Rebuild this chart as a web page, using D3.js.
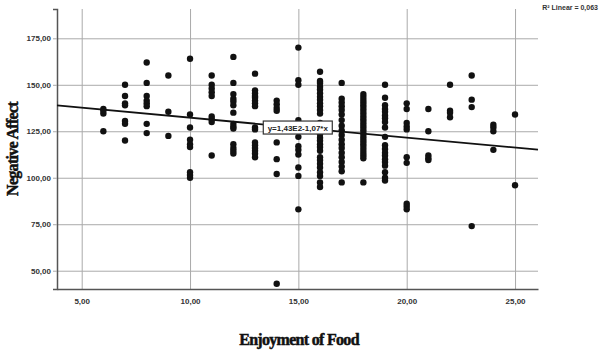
<!DOCTYPE html>
<html>
<head>
<meta charset="utf-8">
<script src="https://cdn.jsdelivr.net/npm/d3@7"></script>
<style>
  body { margin: 0; background: #fff; }
  svg { display: block; }
  .tick text { font-family: 'Liberation Sans', Arial, sans-serif; font-size: 8px; font-weight: bold; fill: #333; }
  .axis-title { font-family: 'Liberation Serif', 'DejaVu Serif', serif; font-weight: bold; font-size: 16px; fill: #111; stroke: #111; stroke-width: 0.5px; letter-spacing: -0.7px; }
</style>
</head>
<body>
<svg id="chart"></svg>
<script>
// Enjoyment of Food score (x) and the Negative Affect values seen in that column
const enjoyment = [6, 7, 8, 9, 10, 11, 12, 13, 14, 15, 16, 17, 18, 19, 20, 21, 22, 23, 24, 25];
const negativeAffect = [
  [137, 136, 134.5, 125],
  [150, 144, 140, 139, 130.5, 129, 120],
  [162, 151, 144, 141.5, 140, 138.5, 129, 124],
  [155, 135.5, 122.5],
  [164, 134, 127, 120.5, 118, 116.5, 103, 101.5, 100],
  [155, 150, 148, 146, 144, 133, 131.5, 130, 112],
  [165, 151, 145, 142.5, 141, 139, 135, 129, 127.5, 126.5, 118, 116, 114.5, 113],
  [156, 147, 145.5, 144, 143, 141.5, 140, 138.5, 127, 126, 119, 117.5, 116, 114.5, 113, 111],
  [141.5, 139.5, 137.5, 136, 119, 110, 102, 43],
  [170, 152.5, 150, 131, 129.5, 127, 122, 117, 115, 112.5, 105.5, 101, 83],
  [157, 152, 151, 149, 147.5, 145.5, 143.5, 142, 140, 138.5, 136.5, 134.5, 129.5, 127.5, 126, 123.5,
   121.5, 120, 118, 116.5, 114.5, 111, 109.5, 107.5, 105.5, 103, 101, 97.5, 95],
  [151, 142.5, 140.5, 138.5, 136.5, 134, 131, 128, 125.5, 123, 120.5, 118, 116, 113.5, 111, 108.5, 106, 103.5, 97.5],
  [145, 143.5, 142, 140.5, 139, 137.5, 136, 134.5, 133, 131.5, 130, 128.5, 127, 125.5, 124, 122.5,
   121, 119.5, 118, 116.5, 115, 113.5, 112, 110.5, 97.5],
  [150, 143, 139, 137, 135.5, 133.5, 132, 130, 127, 122, 117.5, 115.5, 113.5, 112, 110, 108.5, 106.5, 103, 100, 98.5],
  [140, 137, 129.5, 127.5, 126, 111, 108, 86, 84.5, 83],
  [137, 125, 112, 110.5, 109.5],
  [150, 136, 135, 132.5],
  [155, 142, 138, 74],
  [128.5, 127, 125, 115],
  [134, 96]
];
const xTicks = [5, 10, 15, 20, 25];
const yTicks = [50, 75, 100, 125, 150, 175];
const fitIntercept = 143;
const fitSlope = -1.07;
const fitLabel = 'y=1,43E2-1,07*x';
const r2Label = 'R² Linear = 0,063';

const width = 600, height = 351;
const margin = { top: 9, right: 62, bottom: 62, left: 57 };
const innerW = width - margin.left - margin.right;
const innerH = height - margin.top - margin.bottom;

const points = [];
enjoyment.forEach((e, i) => negativeAffect[i].forEach(v => points.push({ x: e, y: v })));

const svg = d3.select('#chart').attr('width', width).attr('height', height);
const g = svg.append('g').attr('transform', `translate(${margin.left},${margin.top})`);

const x = d3.scaleLinear().domain([3.86, 26.06]).range([0, innerW]);
const y = d3.scaleLinear().domain([40.16, 190.76]).range([innerH, 0]);
const fmt = d => d3.format('.2f')(d).replace('.', ',');

// gridlines
g.append('g')
  .call(d3.axisBottom(x).tickValues(xTicks).tickSize(-innerH).tickFormat(''))
  .attr('transform', `translate(0,${innerH})`)
  .call(s => s.select('.domain').remove())
  .selectAll('line').attr('stroke', '#aaa');
g.append('g')
  .call(d3.axisLeft(y).tickValues(yTicks).tickSize(-innerW).tickFormat(''))
  .call(s => s.select('.domain').remove())
  .selectAll('line').attr('stroke', '#aaa');

// axes
const xAxis = g.append('g')
  .attr('transform', `translate(0,${innerH})`)
  .call(d3.axisBottom(x).tickValues(xTicks).tickSize(0).tickPadding(9).tickFormat(fmt));
xAxis.select('.domain').attr('stroke', '#555').attr('stroke-width', 1.5);

const yAxis = g.append('g')
  .call(d3.axisLeft(y).tickValues(yTicks).tickSize(4).tickPadding(2).tickFormat(fmt));
yAxis.select('.domain').attr('stroke', '#555').attr('stroke-width', 1.5);
yAxis.selectAll('.tick line').attr('stroke', '#aaa');

// points
g.selectAll('circle.pt')
  .data(points)
  .enter().append('circle')
    .attr('class', 'pt')
    .attr('cx', d => x(d.x))
    .attr('cy', d => y(d.y))
    .attr('r', 3.2)
    .attr('fill', '#111');

// fit line
const xd = x.domain();
g.append('line')
  .attr('x1', x(xd[0])).attr('y1', y(fitIntercept + fitSlope * xd[0]))
  .attr('x2', x(xd[1])).attr('y2', y(fitIntercept + fitSlope * xd[1]))
  .attr('stroke', '#111').attr('stroke-width', 1.8);

// equation label
const lx = x(14.95), ly = y(fitIntercept + fitSlope * 14.95);
g.append('rect')
  .attr('x', lx - 34).attr('y', ly - 6.5)
  .attr('width', 69).attr('height', 13)
  .attr('fill', '#fff').attr('stroke', '#333').attr('stroke-width', 1.2);
g.append('text')
  .attr('x', lx + 0.5).attr('y', ly + 3)
  .attr('text-anchor', 'middle')
  .style('font-family', 'Liberation Sans, Arial, sans-serif')
  .style('font-size', '8px').style('font-weight', 'bold').attr('fill', '#222')
  .text(fitLabel);

// R² label
svg.append('text')
  .attr('x', 598).attr('y', 10)
  .attr('text-anchor', 'end')
  .style('font-family', 'Liberation Sans, Arial, sans-serif')
  .style('font-size', '7px').style('font-weight', 'bold').attr('fill', '#333')
  .text(r2Label);

// axis titles
svg.append('text')
  .attr('class', 'axis-title')
  .attr('x', 299).attr('y', 345)
  .attr('text-anchor', 'middle')
  .text('Enjoyment of Food');
svg.append('text')
  .attr('class', 'axis-title')
  .attr('transform', 'translate(18,149) rotate(-90)')
  .attr('text-anchor', 'middle')
  .text('Negative Affect');
</script>
</body>
</html>
